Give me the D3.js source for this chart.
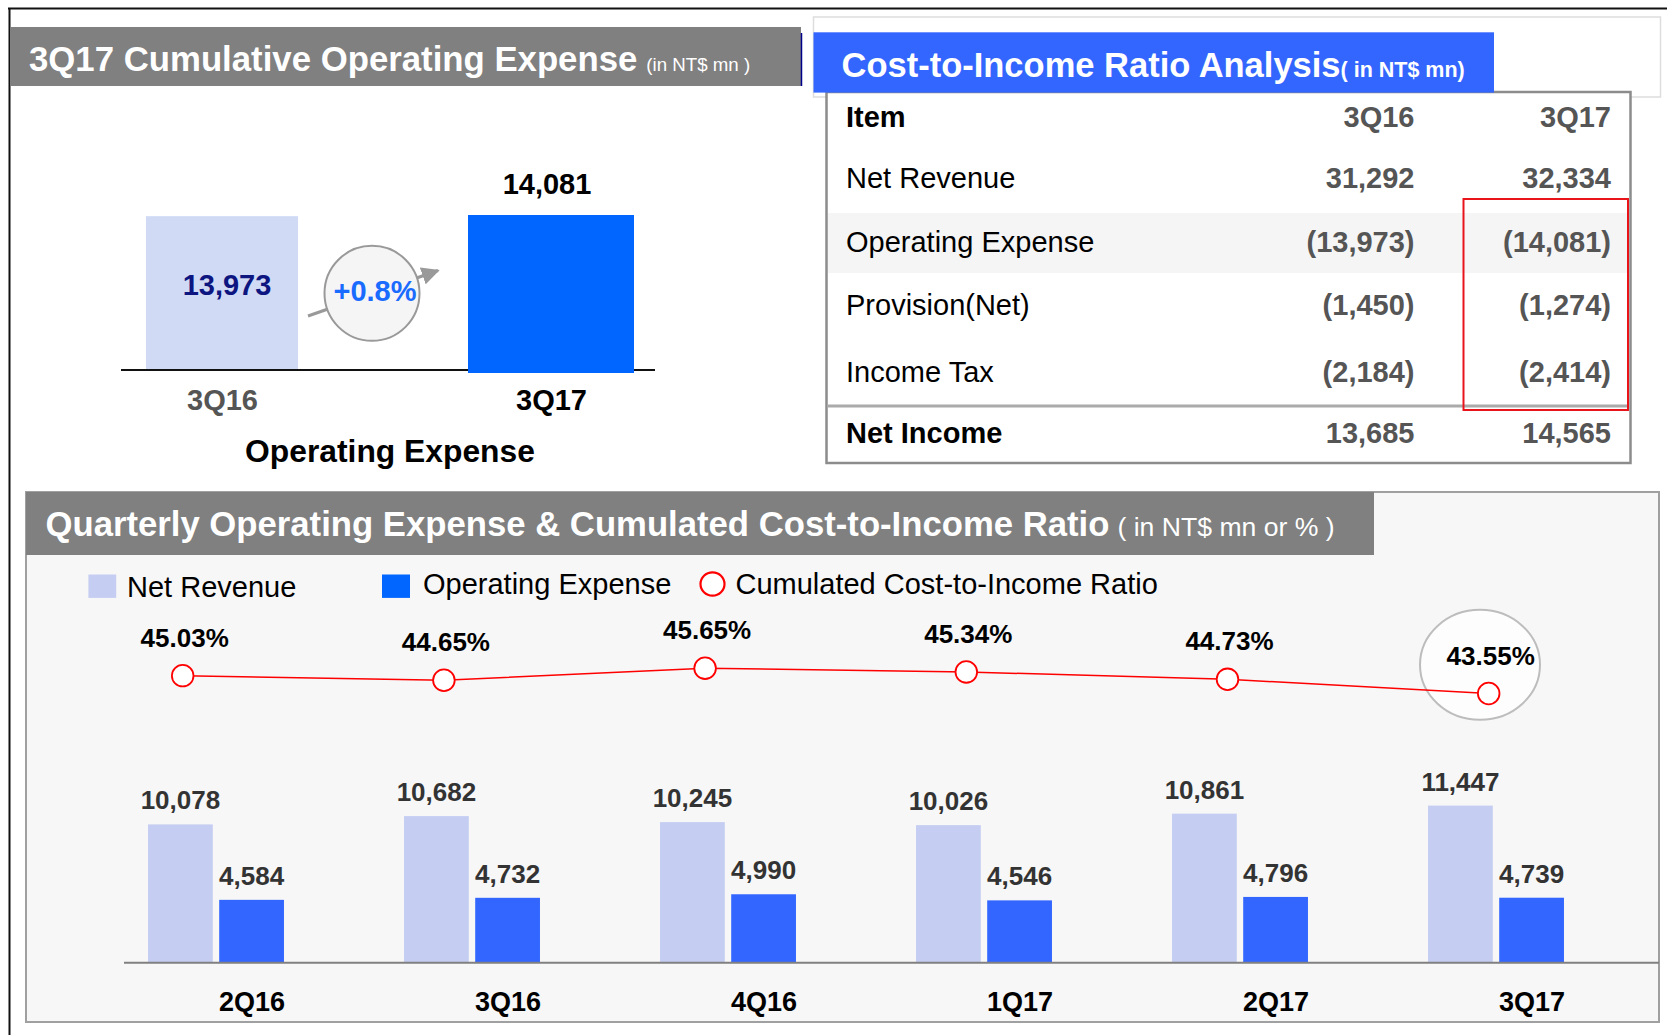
<!DOCTYPE html>
<html>
<head>
<meta charset="utf-8">
<script src="https://cdn.jsdelivr.net/npm/d3@7"></script>
<style>
  html, body { margin: 0; padding: 0; background: #ffffff; }
  svg { display: block; }
  text { font-family: "Liberation Sans", Arial, sans-serif; }
</style>
</head>
<body>
<svg id="chart" width="1667" height="1035"></svg>
<script>
// ---------------- DATA ----------------
const cumPeriods = ["3Q16", "3Q17"];
const cumOpex = [13973, 14081];
const cumChange = "+0.8%";

const tableHeader = ["Item", "3Q16", "3Q17"];
const tableItems = ["Net Revenue", "Operating Expense", "Provision(Net)", "Income Tax", "Net Income"];
const table3Q16 = [31292, -13973, -1450, -2184, 13685];
const table3Q17 = [32334, -14081, -1274, -2414, 14565];

const quarters = ["2Q16", "3Q16", "4Q16", "1Q17", "2Q17", "3Q17"];
const netRevenue = [10078, 10682, 10245, 10026, 10861, 11447];
const opExpense = [4584, 4732, 4990, 4546, 4796, 4739];
const costIncomeRatio = [45.03, 44.65, 45.65, 45.34, 44.73, 43.55];

const seriesNames = ["Net Revenue", "Operating Expense", "Cumulated Cost-to-Income Ratio"];

// ---------------- DRAWING ----------------
const svg = d3.select("#chart");
const FONT = '"Liberation Sans", Arial, sans-serif';
const fmt = d3.format(",");
const fmtParen = v => v < 0 ? "(" + fmt(-v) + ")" : fmt(v);

svg.append("rect").attr("width", 1667).attr("height", 1035).attr("fill", "#ffffff");

// outer frame (top + left)
svg.append("line").attr("x1", 8).attr("x2", 1667).attr("y1", 8.5).attr("y2", 8.5)
  .attr("stroke", "#111").attr("stroke-width", 2);
svg.append("line").attr("x1", 9.5).attr("x2", 9.5).attr("y1", 8).attr("y2", 1035)
  .attr("stroke", "#111").attr("stroke-width", 2);

// ===== Top-left panel =====
svg.append("rect").attr("x", 10).attr("y", 27).attr("width", 791).attr("height", 59).attr("fill", "#808080");
svg.append("line").attr("x1", 801.5).attr("x2", 801.5).attr("y1", 33).attr("y2", 86)
  .attr("stroke", "#00008B").attr("stroke-width", 1.5);
const t1 = svg.append("text").attr("x", 29).attr("y", 71).attr("fill", "#fff")
  .attr("font-weight", "bold").attr("font-size", 34.75).text("3Q17 Cumulative Operating Expense");
t1.append("tspan").attr("dx", 9).attr("font-weight", "normal").attr("font-size", 18.7).text("(in NT$ mn )");

const cx = d3.scalePoint().domain(cumPeriods).range([222, 551]);
const cy = d3.scaleLinear().domain([0, 14081]).range([370, 215]);
const cumBarW = [152, 166];
const cumBarColors = ["#D0DAF5", "#0066FF"];

// light bar first
svg.append("rect").attr("x", cx(cumPeriods[0]) - cumBarW[0] / 2).attr("y", cy(cumOpex[0]))
  .attr("width", cumBarW[0]).attr("height", cy(0) - cy(cumOpex[0])).attr("fill", cumBarColors[0]);
// axis line
svg.append("line").attr("x1", 121).attr("x2", 655).attr("y1", 370).attr("y2", 370)
  .attr("stroke", "#111").attr("stroke-width", 2);
// blue bar
svg.append("rect").attr("x", cx(cumPeriods[1]) - cumBarW[1] / 2).attr("y", cy(cumOpex[1]))
  .attr("width", cumBarW[1]).attr("height", cy(0) - cy(cumOpex[1]) + 3).attr("fill", cumBarColors[1]);

svg.append("text").attr("x", cx(cumPeriods[0]) + 5).attr("y", 295).attr("text-anchor", "middle")
  .attr("font-weight", "bold").attr("font-size", 29).attr("fill", "#0D1580").text(fmt(cumOpex[0]));
svg.append("text").attr("x", cx(cumPeriods[1]) - 4).attr("y", cy(cumOpex[1]) - 21).attr("text-anchor", "middle")
  .attr("font-weight", "bold").attr("font-size", 29).attr("fill", "#000").text(fmt(cumOpex[1]));

// arrow + circle
const defs = svg.append("defs");
defs.append("marker").attr("id", "arrowHead").attr("viewBox", "0 0 10 10").attr("refX", 9).attr("refY", 5)
  .attr("markerWidth", 6).attr("markerHeight", 6).attr("markerUnits", "strokeWidth").attr("orient", "auto")
  .append("path").attr("d", "M0,0 L10,5 L0,10 Z").attr("fill", "#999");
svg.append("line").attr("x1", 308).attr("y1", 316).attr("x2", 438).attr("y2", 270.5)
  .attr("stroke", "#999").attr("stroke-width", 3).attr("marker-end", "url(#arrowHead)");
svg.append("circle").attr("cx", 372).attr("cy", 293.3).attr("r", 47.5)
  .attr("fill", "#F5F5F5").attr("stroke", "#999").attr("stroke-width", 2);
svg.append("text").attr("x", 375).attr("y", 301).attr("text-anchor", "middle")
  .attr("font-weight", "bold").attr("font-size", 29).attr("fill", "#1A6BFF").text(cumChange);

const cAxis = svg.append("g").attr("transform", "translate(0,410)")
  .call(d3.axisBottom(cx).tickSize(0).tickPadding(0));
cAxis.select(".domain").remove();
cAxis.selectAll("text").attr("dy", 0).attr("font-family", FONT).attr("font-weight", "bold").attr("font-size", 29)
  .attr("fill", (d, i) => i === 0 ? "#555" : "#000");
svg.append("text").attr("x", 390).attr("y", 462).attr("text-anchor", "middle")
  .attr("font-weight", "bold").attr("font-size", 31.8).attr("fill", "#000").text("Operating Expense");

// ===== Top-right table =====
svg.append("rect").attr("x", 813.5).attr("y", 17).attr("width", 847).attr("height", 80)
  .attr("fill", "#fff").attr("stroke", "#ddd").attr("stroke-width", 1.5);
svg.append("rect").attr("x", 826.5).attr("y", 92).attr("width", 804).attr("height", 371)
  .attr("fill", "#fff").attr("stroke", "#8c8c8c").attr("stroke-width", 2.5);
svg.append("rect").attr("x", 813.5).attr("y", 32.3).attr("width", 680.5).attr("height", 60.3).attr("fill", "#3366FF");
const t2 = svg.append("text").attr("x", 841.5).attr("y", 77).attr("fill", "#fff")
  .attr("font-weight", "bold").attr("font-size", 34.5).text("Cost-to-Income Ratio Analysis");
t2.append("tspan").attr("font-size", 21.5).text("( in NT$ mn)");

svg.append("rect").attr("x", 828).attr("y", 213).attr("width", 801).attr("height", 60).attr("fill", "#F5F5F5");
const rowBase = [188.3, 251.7, 315, 381.7, 442.5];
const colRight = [1414.5, 1611];
svg.append("text").attr("x", 846).attr("y", 126.7).attr("font-weight", "bold").attr("font-size", 29)
  .attr("fill", "#000").text(tableHeader[0]);
[1, 2].forEach(j => svg.append("text").attr("x", colRight[j - 1]).attr("y", 126.7).attr("text-anchor", "end")
  .attr("font-weight", "bold").attr("font-size", 29).attr("fill", "#555").text(tableHeader[j]));
tableItems.forEach((item, i) => {
  const last = i === tableItems.length - 1;
  svg.append("text").attr("x", 846).attr("y", rowBase[i]).attr("font-size", 29)
    .attr("font-weight", last ? "bold" : "normal").attr("fill", "#000").text(item);
  svg.append("text").attr("x", colRight[0]).attr("y", rowBase[i]).attr("text-anchor", "end")
    .attr("font-weight", "bold").attr("font-size", 29).attr("fill", "#555").text(fmtParen(table3Q16[i]));
  svg.append("text").attr("x", colRight[1]).attr("y", rowBase[i]).attr("text-anchor", "end")
    .attr("font-weight", "bold").attr("font-size", 29).attr("fill", "#555").text(fmtParen(table3Q17[i]));
});
svg.append("line").attr("x1", 827).attr("x2", 1630).attr("y1", 406).attr("y2", 406)
  .attr("stroke", "#aaa").attr("stroke-width", 3);
svg.append("rect").attr("x", 1463.5).attr("y", 199).attr("width", 164.5).attr("height", 211)
  .attr("fill", "none").attr("stroke", "#E8141A").attr("stroke-width", 2);

// ===== Bottom panel =====
svg.append("rect").attr("x", 26).attr("y", 492).attr("width", 1633).attr("height", 530)
  .attr("fill", "#F7F7F7").attr("stroke", "#A0A0A0").attr("stroke-width", 2);
svg.append("rect").attr("x", 26).attr("y", 492).attr("width", 1348).attr("height", 63).attr("fill", "#808080");
const t3 = svg.append("text").attr("x", 45.5).attr("y", 536).attr("fill", "#fff")
  .attr("font-weight", "bold").attr("font-size", 34.7).text("Quarterly Operating Expense & Cumulated Cost-to-Income Ratio");
t3.append("tspan").attr("dx", 8).attr("font-weight", "normal").attr("font-size", 26.6).text("( in NT$ mn or % )");

// legend
svg.append("rect").attr("x", 88.4).attr("y", 574.5).attr("width", 27.8).attr("height", 23.4).attr("fill", "#C5CEF2");
svg.append("text").attr("x", 127).attr("y", 597).attr("font-size", 29).attr("fill", "#000").text(seriesNames[0]);
svg.append("rect").attr("x", 382).attr("y", 574.5).attr("width", 28).attr("height", 23.4).attr("fill", "#0066FF");
svg.append("text").attr("x", 423).attr("y", 593.7).attr("font-size", 29).attr("fill", "#000").text(seriesNames[1]);
svg.append("ellipse").attr("cx", 712.5).attr("cy", 584).attr("rx", 12).attr("ry", 11.7)
  .attr("fill", "#fff").attr("stroke", "#FF0000").attr("stroke-width", 2.2);
svg.append("text").attr("x", 735.5).attr("y", 593.7).attr("font-size", 29).attr("fill", "#000").text(seriesNames[2]);

// bar scales
const x0 = d3.scaleBand().domain(quarters).range([88, 1624]).paddingInner(0.469).paddingOuter(0.2345);
const x1 = d3.scaleBand().domain(["nr", "oe"]).range([0, x0.bandwidth()]).paddingInner(0.09);
const yb = d3.scaleLinear().domain([0, 12000]).range([962.8, 798]);

const groups = svg.append("g").selectAll("g").data(quarters).join("g")
  .attr("transform", d => `translate(${x0(d)},0)`);
groups.append("rect").attr("x", x1("nr")).attr("width", x1.bandwidth())
  .attr("y", (d, i) => yb(netRevenue[i])).attr("height", (d, i) => yb(0) - yb(netRevenue[i]))
  .attr("fill", "#C5CEF2");
groups.append("rect").attr("x", x1("oe")).attr("width", x1.bandwidth())
  .attr("y", (d, i) => yb(opExpense[i])).attr("height", (d, i) => yb(0) - yb(opExpense[i]))
  .attr("fill", "#3366FF");
groups.append("text").attr("x", x1("nr") + x1.bandwidth() / 2).attr("y", (d, i) => yb(netRevenue[i]) - 15)
  .attr("text-anchor", "middle").attr("font-weight", "bold").attr("font-size", 26).attr("fill", "#333")
  .text((d, i) => fmt(netRevenue[i]));
groups.append("text").attr("x", x1("oe") + x1.bandwidth() / 2).attr("y", (d, i) => yb(opExpense[i]) - 15)
  .attr("text-anchor", "middle").attr("font-weight", "bold").attr("font-size", 26).attr("fill", "#333")
  .text((d, i) => fmt(opExpense[i]));

svg.append("line").attr("x1", 124).attr("x2", 1659).attr("y1", 962.8).attr("y2", 962.8)
  .attr("stroke", "#808080").attr("stroke-width", 2);

const oeOff = x1("oe") + x1.bandwidth() / 2;
const xLab = d3.scalePoint().domain(quarters)
  .range([x0(quarters[0]) + oeOff, x0(quarters[quarters.length - 1]) + oeOff]);
const bAxis = svg.append("g").attr("transform", "translate(0,1011)")
  .call(d3.axisBottom(xLab).tickSize(0).tickPadding(0));
bAxis.select(".domain").remove();
bAxis.selectAll("text").attr("dy", 0).attr("font-family", FONT).attr("font-weight", "bold")
  .attr("font-size", 27).attr("fill", "#000");

// line series
const xl = d3.scalePoint().domain(quarters).range([182.7, 1488.7]);
const yl = d3.scaleLinear().domain([43.55, 45.65]).range([693.5, 668.2]);
const lastQ = quarters[quarters.length - 1];
const lastV = costIncomeRatio[costIncomeRatio.length - 1];
svg.append("ellipse").attr("cx", xl(lastQ) - 8.7).attr("cy", yl(lastV) - 28.7).attr("rx", 60).attr("ry", 55)
  .attr("fill", "#FDFDFD").attr("stroke", "#BDBDBD").attr("stroke-width", 2);
svg.append("path").datum(costIncomeRatio)
  .attr("d", d3.line().x((d, i) => xl(quarters[i])).y(d => yl(d)))
  .attr("fill", "none").attr("stroke", "#FF0000").attr("stroke-width", 1.5);
svg.append("g").selectAll("circle").data(costIncomeRatio).join("circle")
  .attr("cx", (d, i) => xl(quarters[i])).attr("cy", d => yl(d)).attr("r", 10.8)
  .attr("fill", "#fff").attr("stroke", "#FF0000").attr("stroke-width", 1.8);
svg.append("g").selectAll("text").data(costIncomeRatio).join("text")
  .attr("x", (d, i) => xl(quarters[i]) + 2).attr("y", d => yl(d) - 29)
  .attr("text-anchor", "middle").attr("font-weight", "bold").attr("font-size", 26).attr("fill", "#000")
  .text(d => d.toFixed(2) + "%");
</script>
</body>
</html>
